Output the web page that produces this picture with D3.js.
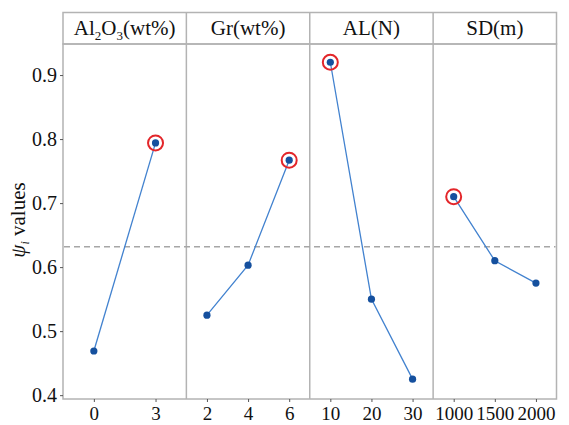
<!DOCTYPE html>
<html>
<head>
<meta charset="utf-8">
<script src="https://cdn.jsdelivr.net/npm/d3@7"></script>
<style>
  html, body { margin: 0; padding: 0; background: #fff; }
  svg { display: block; }
  svg text { font-family: "Liberation Serif", "Times New Roman", serif !important; fill: #111; }
</style>
</head>
<body>
<svg id="chart" width="569" height="425"></svg>
<script>
// ---- data ----
const factors = ["Al2O3(wt%)", "Gr(wt%)", "AL(N)", "SD(m)"];
const levelsAl2O3 = ["0", "3"];
const valuesAl2O3 = [0.469, 0.794];
const levelsGr = ["2", "4", "6"];
const valuesGr = [0.525, 0.603, 0.767];
const levelsAL = ["10", "20", "30"];
const valuesAL = [0.920, 0.550, 0.425];
const levelsSD = ["1000", "1500", "2000"];
const valuesSD = [0.710, 0.610, 0.575];
const meanValue = 0.632;
const yTicks = [0.4, 0.5, 0.6, 0.7, 0.8, 0.9];
const yLabel = "values";

const panels = [
  { levels: levelsAl2O3, values: valuesAl2O3 },
  { levels: levelsGr, values: valuesGr },
  { levels: levelsAL, values: valuesAL },
  { levels: levelsSD, values: valuesSD }
];

// ---- layout ----
const FONT = '"Liberation Serif", "Times New Roman", serif';
const svg = d3.select("#chart");
const plotL = 63, plotR = 556.5, plotT = 44, plotB = 399, headT = 12.5;
const borderColor = "#b3b3b3";

const panelScale = d3.scaleBand().domain(factors).range([plotL, plotR]).padding(0);
const y = d3.scaleLinear().domain([0.394, 0.9485]).range([plotB, plotT]);

// header box
svg.append("rect")
  .attr("x", plotL).attr("y", headT)
  .attr("width", plotR - plotL).attr("height", plotT - headT)
  .attr("fill", "none").attr("stroke", borderColor).attr("stroke-width", 1.5);

// plot border
svg.append("rect")
  .attr("x", plotL).attr("y", plotT)
  .attr("width", plotR - plotL).attr("height", plotB - plotT)
  .attr("fill", "none").attr("stroke", borderColor).attr("stroke-width", 1.5);

// panel dividers
factors.slice(1).forEach(f => {
  svg.append("line")
    .attr("x1", panelScale(f)).attr("x2", panelScale(f))
    .attr("y1", headT).attr("y2", plotB)
    .attr("stroke", borderColor).attr("stroke-width", 1.5);
});

// header texts (with subscripts)
function headerText(f, cx) {
  const t = svg.append("text")
    .attr("x", cx).attr("y", 34.5)
    .attr("text-anchor", "middle")
    .attr("font-family", FONT)
    .attr("font-size", 21);
  const m = f.match(/^Al2O3(.*)$/);
  if (m) {
    t.append("tspan").text("Al");
    t.append("tspan").attr("font-size", 13).attr("dy", 5).text("2");
    t.append("tspan").attr("dy", -5).text("O");
    t.append("tspan").attr("font-size", 13).attr("dy", 5).text("3");
    t.append("tspan").attr("dy", -5).text(m[1]);
  } else {
    t.text(f);
  }
}
factors.forEach(f => headerText(f, panelScale(f) + panelScale.bandwidth() / 2));

// y axis
const yAxis = d3.axisLeft(y).tickValues(yTicks).tickSize(3).tickPadding(3)
  .tickFormat(d3.format(".1f"));
const gy = svg.append("g").attr("transform", `translate(${plotL},0)`).call(yAxis)
  .attr("font-family", FONT).attr("font-size", 20);
gy.select(".domain").remove();
gy.selectAll(".tick line").attr("stroke", "#555");
gy.selectAll(".tick text").attr("fill", "#111");

// y label
const yl = svg.append("text")
  .attr("transform", "translate(25,220) rotate(-90)")
  .attr("text-anchor", "middle")
  .attr("font-family", FONT)
  .attr("font-size", 21);
yl.append("tspan").attr("font-style", "italic").text("ψ");
yl.append("tspan").attr("font-style", "italic").attr("font-size", 12).attr("dy", 4).text("i");
yl.append("tspan").attr("dy", -4).text(" " + yLabel);

// mean dashed line
svg.append("line")
  .attr("x1", plotL + 1).attr("x2", plotR - 1)
  .attr("y1", y(meanValue)).attr("y2", y(meanValue))
  .attr("stroke", "#a6a6a6").attr("stroke-width", 1.5)
  .attr("stroke-dasharray", "6,4");

// panels
panels.forEach((p, i) => {
  const f = factors[i];
  const x0 = panelScale(f), x1 = x0 + panelScale.bandwidth();
  const x = d3.scalePoint().domain(p.levels).range([x0, x1]).padding(0.5);
  const data = p.levels.map((l, j) => ({ l, v: p.values[j] }));

  const xAxis = d3.axisBottom(x).tickSize(3).tickPadding(5);
  const gx = svg.append("g").attr("transform", `translate(0,${plotB})`).call(xAxis)
    .attr("font-family", FONT).attr("font-size", 19);
  gx.select(".domain").remove();
  gx.selectAll(".tick line").attr("stroke", "#555");
  gx.selectAll(".tick text").attr("fill", "#111");

  const line = d3.line().x(d => x(d.l)).y(d => y(d.v));
  svg.append("path").datum(data)
    .attr("d", line).attr("fill", "none")
    .attr("stroke", "#4282cf").attr("stroke-width", 1.3);

  svg.selectAll(null).data(data).enter().append("circle")
    .attr("cx", d => x(d.l)).attr("cy", d => y(d.v))
    .attr("r", 3.6).attr("fill", "#15509e");

  const best = data.reduce((a, b) => (b.v > a.v ? b : a));
  svg.append("circle")
    .attr("cx", x(best.l)).attr("cy", y(best.v))
    .attr("r", 7.5).attr("fill", "none")
    .attr("stroke", "#e3262a").attr("stroke-width", 2);
});
</script>
</body>
</html>
